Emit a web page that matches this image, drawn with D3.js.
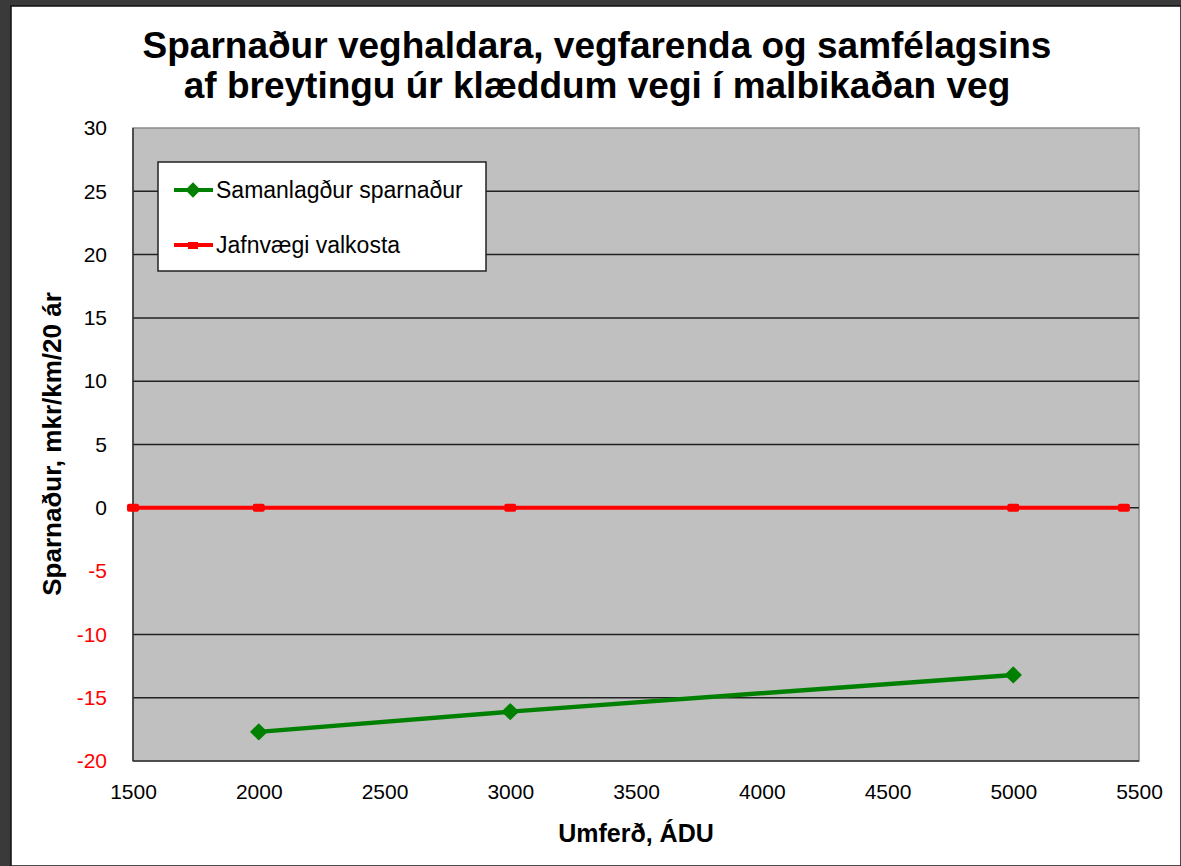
<!DOCTYPE html>
<meta charset="utf-8">
<head>
<style>
body { margin: 0; background: #fff; }
svg { display: block; font-family: "Liberation Sans", Arial, sans-serif; }
.axis text { font-size: 21px; }
.axis path, .axis line { display: none; }
</style>
</head>
<body>
<script src="https://cdn.jsdelivr.net/npm/d3@7"></script>
<script>
// chart values
var umferd = [2000, 3000, 5000];
var sparnadur = [-17.7, -16.1, -13.2];
var jafnvaegiX = [1500, 2000, 3000, 5000, 5440];
var jafnvaegiY = [0, 0, 0, 0, 0];
var xTicks = [1500, 2000, 2500, 3000, 3500, 4000, 4500, 5000, 5500];
var yTicks = [30, 25, 20, 15, 10, 5, 0, -5, -10, -15, -20];
var gridValues = [25, 20, 15, 10, 5, 0, -10, -15];
var titleLines = ["Sparnaður veghaldara, vegfarenda og samfélagsins",
                  "af breytingu úr klæddum vegi í malbikaðan veg"];
var legendLabels = ["Samanlagður sparnaður", "Jafnvægi valkosta"];

var W = 1181, H = 866;
var plot = { left: 133, right: 1139, top: 128, bottom: 761 };

var svg = d3.select("body").append("svg")
    .attr("width", W)
    .attr("height", H);

// dark frame on top and left
svg.append("rect").attr("x", 0).attr("y", 0).attr("width", W).attr("height", H).attr("fill", "#3a3a3a");
svg.append("rect").attr("x", 11).attr("y", 6).attr("width", W - 11).attr("height", H - 6)
    .attr("fill", "#fff").attr("stroke", "#111").attr("stroke-width", 1.5);

var x = d3.scaleLinear().domain([1500, 5500]).range([plot.left, plot.right]);
var y = d3.scaleLinear().domain([-20, 30]).range([plot.bottom, plot.top]);

// plot background
svg.append("rect")
    .attr("x", plot.left).attr("y", plot.top)
    .attr("width", plot.right - plot.left).attr("height", plot.bottom - plot.top)
    .attr("fill", "#c0c0c0")
    .attr("stroke", "#8a8a8a").attr("stroke-width", 1.5);

// gridlines
svg.selectAll(".grid")
    .data(gridValues)
    .enter().append("line")
    .attr("class", "grid")
    .attr("x1", plot.left).attr("x2", plot.right)
    .attr("y1", d => y(d)).attr("y2", d => y(d))
    .attr("stroke", "#222").attr("stroke-width", 1.5);

// axis lines (left and bottom)
svg.append("line").attr("x1", plot.left).attr("x2", plot.left)
    .attr("y1", plot.top).attr("y2", plot.bottom).attr("stroke", "#333").attr("stroke-width", 1.5);
svg.append("line").attr("x1", plot.left).attr("x2", plot.right)
    .attr("y1", plot.bottom).attr("y2", plot.bottom).attr("stroke", "#333").attr("stroke-width", 1.5);

var xAxis = svg.append("g")
    .attr("class", "axis")
    .attr("transform", "translate(0," + plot.bottom + ")")
    .call(d3.axisBottom(x).tickValues(xTicks).tickSize(0).tickPadding(23).tickFormat(d => String(d)));
xAxis.selectAll("text").style("fill", "#000");

var yAxis = svg.append("g")
    .attr("class", "axis")
    .attr("transform", "translate(" + plot.left + ",0)")
    .call(d3.axisLeft(y).tickValues(yTicks).tickSize(0).tickPadding(26).tickFormat(d => String(d)));
yAxis.selectAll("text").style("fill", d => d < 0 ? "#ff0000" : "#000");

// red balance line
var line = d3.line().x(d => x(d[0])).y(d => y(d[1]));
var redData = jafnvaegiX.map((v, i) => [v, jafnvaegiY[i]]);
svg.append("path")
    .datum(redData)
    .attr("d", line)
    .attr("fill", "none").attr("stroke", "#ff0000").attr("stroke-width", 4);
svg.selectAll(".redmark")
    .data(redData)
    .enter().append("rect")
    .attr("class", "redmark")
    .attr("x", d => x(d[0]) - 6).attr("y", d => y(d[1]) - 4)
    .attr("width", 12).attr("height", 8).attr("rx", 2)
    .attr("fill", "#ff0000");

// green savings line
var greenData = umferd.map((v, i) => [v, sparnadur[i]]);
svg.append("path")
    .datum(greenData)
    .attr("d", line)
    .attr("fill", "none").attr("stroke", "#008000").attr("stroke-width", 4.5);
var diamond = d3.symbol().type(d3.symbolDiamond2).size(150);
svg.selectAll(".greenmark")
    .data(greenData)
    .enter().append("path")
    .attr("class", "greenmark")
    .attr("transform", d => "translate(" + x(d[0]) + "," + y(d[1]) + ")")
    .attr("d", diamond)
    .attr("fill", "#008000").attr("stroke", "#008000").attr("stroke-width", 1.5).attr("stroke-linejoin", "round");

// legend
var lg = svg.append("g");
lg.append("rect").attr("x", 158).attr("y", 162).attr("width", 328).attr("height", 109)
    .attr("fill", "#fff").attr("stroke", "#222").attr("stroke-width", 1.5);
lg.append("line").attr("x1", 174).attr("x2", 213).attr("y1", 190).attr("y2", 190)
    .attr("stroke", "#008000").attr("stroke-width", 4);
lg.append("path").attr("transform", "translate(193,190)").attr("d", diamond)
    .attr("fill", "#008000");
lg.append("line").attr("x1", 174).attr("x2", 213).attr("y1", 245).attr("y2", 245)
    .attr("stroke", "#ff0000").attr("stroke-width", 4);
lg.append("rect").attr("x", 188).attr("y", 242).attr("width", 10).attr("height", 7).attr("fill", "#ff0000");
lg.selectAll(".ltext")
    .data(legendLabels)
    .enter().append("text")
    .attr("x", 216).attr("y", (d, i) => 190 + i * 55)
    .attr("dy", "0.35em")
    .attr("font-size", 23)
    .text(d => d);

// title
svg.append("text")
    .attr("x", 597).attr("y", 58)
    .attr("text-anchor", "middle")
    .attr("font-size", 37).attr("font-weight", "bold")
    .selectAll("tspan")
    .data(titleLines)
    .enter().append("tspan")
    .attr("x", 597).attr("dy", (d, i) => i === 0 ? 0 : 40)
    .text(d => d);

// axis titles
svg.append("text")
    .attr("x", 636).attr("y", 842)
    .attr("text-anchor", "middle")
    .attr("font-size", 25).attr("font-weight", "bold")
    .text("Umferð, ÁDU");

svg.append("text")
    .attr("transform", "translate(61,444) rotate(-90)")
    .attr("text-anchor", "middle")
    .attr("font-size", 26).attr("font-weight", "bold")
    .text("Sparnaður, mkr/km/20 ár");
</script>
</body>
